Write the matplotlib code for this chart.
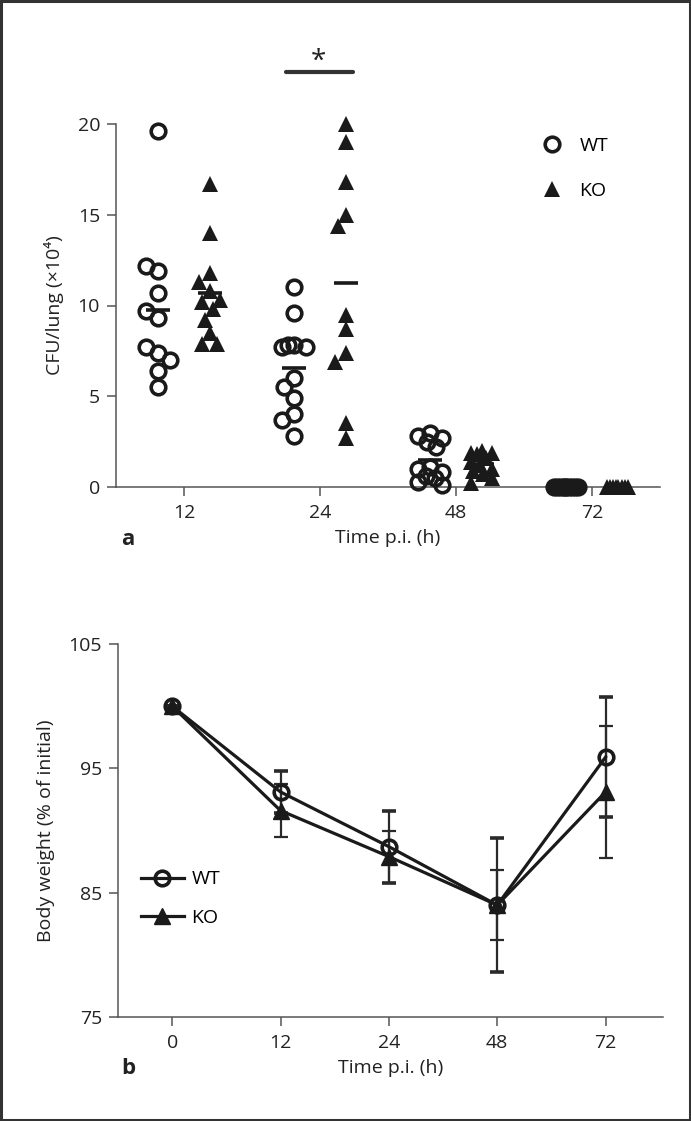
import numpy as np
import matplotlib.pyplot as plt
from matplotlib.lines import Line2D
from matplotlib.patches import Rectangle

plt.rcParams['font.family'] = ['Open Sans', 'DejaVu Sans']

# panel a: CFU per lung (x10^4)
times_a = ['12', '24', '48', '72']
wt_cfu = [
    [19.6, 11.9, 12.2, 10.7, 9.3, 9.7, 7.4, 7.7, 7.0, 6.4, 5.5],
    [11.0, 9.6, 7.8, 7.7, 7.7, 7.8, 6.0, 5.5, 4.9, 4.0, 3.7, 2.8],
    [3.0, 2.8, 2.7, 2.5, 2.2, 1.1, 1.0, 0.8, 0.6, 0.5, 0.3, 0.1],
    [0, 0, 0, 0, 0, 0, 0, 0, 0, 0],
]
ko_cfu = [
    [16.7, 14.0, 11.8, 11.3, 10.8, 10.2, 10.3, 9.8, 9.2, 8.5, 7.9, 7.9],
    [20.0, 19.0, 16.8, 15.0, 14.4, 9.5, 8.7, 7.4, 6.9, 3.5, 2.7],
    [2.0, 1.9, 1.9, 1.8, 1.6, 1.4, 1.2, 1.0, 0.9, 0.7, 0.5, 0.2],
    [0, 0, 0, 0, 0, 0, 0, 0],
]

# panel b: body weight (% of initial), mean and SE
times_b = ['0', '12', '24', '48', '72']
wt_bw = [100, 93.1, 88.7, 84.0, 95.9]
wt_se = [0, 1.7, 2.9, 5.4, 4.8]
ko_bw = [100, 91.6, 87.9, 84.0, 93.1]
ko_se = [0, 2.1, 2.1, 2.8, 5.3]

ink = '#1a1a1a'
axcol = '#555555'
txt = '#222222'
fs = 14


def swarm(ax, xc, ys, diam, maxw):
    # simple beeswarm in pixel space so markers spread sideways
    pts = ax.transData.transform(np.column_stack([np.full(len(ys), xc), ys]))
    cands = [0.0]
    for s in np.arange(1.5, maxw + 0.1, 1.5):
        cands += [-s, s]
    placed = []
    for py in pts[:, 1]:
        best, bestd = 0.0, -1
        for c in cands:
            d = min([np.hypot(c - a, py - b) for a, b in placed] or [1e9])
            if d >= diam:
                best = c
                break
            if d > bestd:
                best, bestd = c, d
        placed.append((best, py))
    out = np.array([(pts[0, 0] + a, b) for a, b in placed])
    return ax.transData.inverted().transform(out)[:, 0]


def style(ax):
    for s in ['top', 'right']:
        ax.spines[s].set_visible(False)
    for s in ['left', 'bottom']:
        ax.spines[s].set_color(axcol)
        ax.spines[s].set_linewidth(1.1)
    ax.tick_params(colors=axcol, labelcolor=txt, labelsize=fs, length=6.5, width=1.1)
    ax.tick_params(axis='x', pad=6)
    ax.tick_params(axis='y', pad=5)


fig = plt.figure(figsize=(6.91, 11.21), dpi=100)

# ---- panel a
ax1 = fig.add_axes([116 / 691, 1 - 487 / 1121, 544 / 691, 363 / 1121])
ax1.set_xlim(-0.5, 3.5)
ax1.set_ylim(0, 20)
style(ax1)
ax1.set_xticks(range(len(times_a)))
ax1.set_xticklabels(times_a)
ax1.set_yticks([0, 5, 10, 15, 20])

for i in range(len(times_a)):
    xw = i - 0.19
    xk = i + 0.19
    px = swarm(ax1, xw, wt_cfu[i], 13, 12)
    ax1.plot(px, wt_cfu[i], 'o', ms=10.5, mfc='none', mec=ink, mew=2.6, clip_on=False, zorder=3)
    px = swarm(ax1, xk, ko_cfu[i], 13, 11)
    ax1.plot(px, ko_cfu[i], '^', ms=11.5, color=ink, mew=0, clip_on=False, zorder=3)
    ax1.hlines(np.mean(wt_cfu[i]), xw - 0.09, xw + 0.09, color=ink, lw=2.6, zorder=4)
    ax1.hlines(np.mean(ko_cfu[i]), xk - 0.09, xk + 0.09, color=ink, lw=2.6, zorder=4)

# significance bar at 24 h
ax1.plot([0.75, 1.24], [22.85, 22.85], color='#333333', lw=3, clip_on=False, solid_capstyle='round')
ax1.text(0.985, 23.45, '*', ha='center', va='center', fontsize=20, color=txt)

ax1.set_ylabel('CFU/lung (×10⁴)', fontsize=fs, color=txt, labelpad=10)
ax1.set_xlabel('Time p.i. (h)', fontsize=fs, color=txt, labelpad=5)

h1 = [Line2D([], [], ls='none', marker='o', ms=10.5, mfc='none', mec=ink, mew=2.6),
      Line2D([], [], ls='none', marker='^', ms=11.5, color=ink, mew=0)]
ax1.legend(h1, ['WT', 'KO'], loc='upper left', bbox_to_anchor=(0.748, 1.013), frameon=False,
           fontsize=fs, handletextpad=0.8, labelspacing=1.38, handlelength=1.2)

# ---- panel b
ax2 = fig.add_axes([118 / 691, 1 - 1017 / 1121, 545 / 691, 373 / 1121])
ax2.set_xlim(-0.5, 4.53)
ax2.set_ylim(75, 105)
style(ax2)
ax2.set_xticks(range(len(times_b)))
ax2.set_xticklabels(times_b)
ax2.set_yticks([75, 85, 95, 105])

xb = np.arange(len(times_b))
ax2.errorbar(xb, wt_bw, yerr=wt_se, color=ink, lw=2.3, marker='o', ms=10.5, mfc='none', mec=ink,
             mew=2.6, ecolor='#2a2a2a', elinewidth=1.6, capsize=5, capthick=1.6, label='WT', zorder=3)
ax2.errorbar(xb, ko_bw, yerr=ko_se, color=ink, lw=2.3, marker='^', ms=11.5, mec=ink,
             ecolor='#2a2a2a', elinewidth=1.6, capsize=5, capthick=1.6, label='KO', zorder=3)

ax2.set_ylabel('Body weight (% of initial)', fontsize=fs, color=txt, labelpad=10)
ax2.set_xlabel('Time p.i. (h)', fontsize=fs, color=txt, labelpad=5)

h2 = [Line2D([], [], color=ink, lw=2.3, marker='o', ms=10.5, mfc='none', mec=ink, mew=2.6),
      Line2D([], [], color=ink, lw=2.3, marker='^', ms=11.5)]
ax2.legend(h2, ['WT', 'KO'], loc='upper left', bbox_to_anchor=(0.01, 0.44), frameon=False,
           fontsize=fs, handletextpad=0.4, labelspacing=1.05, handlelength=2.2)

# panel letters
fig.text(128 / 691, 1 - 540 / 1121, 'a', fontsize=16, fontweight='bold', ha='center', va='center', color=txt)
fig.text(128 / 691, 1 - 1068 / 1121, 'b', fontsize=16, fontweight='bold', ha='center', va='center', color=txt)

# outer frame
fig.patches.append(Rectangle((0.002, 0.001), 0.996, 0.998, transform=fig.transFigure,
                             fill=False, ec='#333333', lw=2.2))

fig.savefig('out.png', dpi=100)
